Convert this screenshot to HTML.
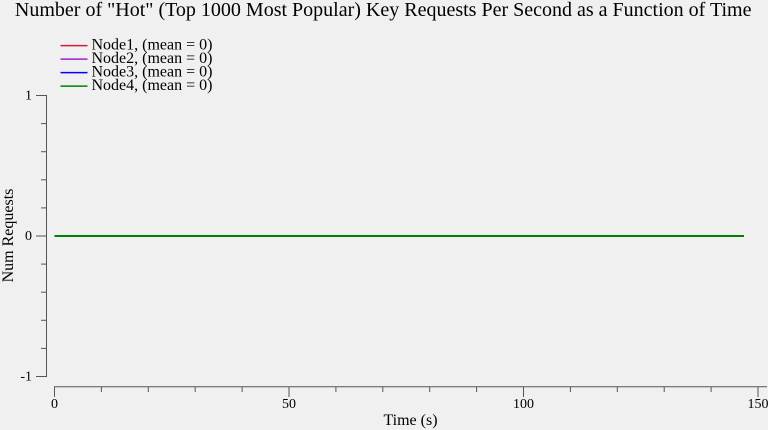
<!DOCTYPE html>
<html lang="en">
<head>
<meta charset="utf-8">
<title>Hot Key Requests Per Second</title>
<style>
html,body{margin:0;padding:0;background:#f0f0f0;}
svg{display:block;font-family:"Liberation Serif",serif;fill:#000;}
</style>
</head>
<body>
<svg id="chart" xmlns="http://www.w3.org/2000/svg" width="768" height="430" viewBox="0 0 768 430">
<rect x="0" y="0" width="768" height="430" fill="#f0f0f0"/>
<text x="383.2" y="16" font-size="20" text-anchor="middle">Number of "Hot" (Top 1000 Most Popular) Key Requests Per Second as a Function of Time</text>
<text x="0" y="0" font-size="16" text-anchor="middle" transform="translate(13 235.5) rotate(-90)">Num Requests</text>
<text x="410.5" y="425" font-size="16" text-anchor="middle">Time (s)</text>
<g id="axes"></g>
<g id="series"></g>
<g id="legend"></g>
</svg>
<script>
var seriesNames = ["Node1", "Node2", "Node3", "Node4"];
var seriesColors = ["#d01c3c", "#a020d0", "#0000ff", "#008000"];
var seriesMeans = [0, 0, 0, 0];
var times = [0, 10, 20, 30, 40, 50, 60, 70, 80, 90, 100, 110, 120, 130, 140, 147];
var node1Values = [0, 0, 0, 0, 0, 0, 0, 0, 0, 0, 0, 0, 0, 0, 0, 0];
var node2Values = [0, 0, 0, 0, 0, 0, 0, 0, 0, 0, 0, 0, 0, 0, 0, 0];
var node3Values = [0, 0, 0, 0, 0, 0, 0, 0, 0, 0, 0, 0, 0, 0, 0, 0];
var node4Values = [0, 0, 0, 0, 0, 0, 0, 0, 0, 0, 0, 0, 0, 0, 0, 0];
var xTicks = [0, 10, 20, 30, 40, 50, 60, 70, 80, 90, 100, 110, 120, 130, 140, 150];
var xLabels = [0, 50, 100, 150];
var yTicks = [-1, -0.8, -0.6, -0.4, -0.2, 0, 0.2, 0.4, 0.6, 0.8, 1];
var yLabels = [-1, 0, 1];

var NS = "http://www.w3.org/2000/svg";
function xScale(v) { return 54.5 + v * (758 - 54.5) / 150; }
function yScale(v) { return 236 - v * 140.5; }
function make(tag, attrs, parent) {
  var el = document.createElementNS(NS, tag);
  for (var k in attrs) { el.setAttribute(k, attrs[k]); }
  parent.appendChild(el);
  return el;
}
var axes = document.getElementById("axes");
var AXIS = "#555555";

var yLine = make("line", { x1: 46.5, x2: 46.5, y1: yScale(1) - 0.5, y2: yScale(-1) + 0.5, stroke: AXIS, "stroke-width": 1 }, axes);


var xLine = make("line", { x1: 54, x2: 767, y1: 386.7, y2: 386.7, stroke: AXIS, "stroke-width": 1 }, axes);



yTicks.forEach(function (v) {
  var major = yLabels.indexOf(v) >= 0;
  var t = make("line", { x1: major ? 36 : 41, x2: 46.5, y1: yScale(v), y2: yScale(v), stroke: AXIS, "stroke-width": 1 }, axes);
  
  
});
yLabels.forEach(function (v) {
  var t = make("text", { x: 32, y: yScale(v) + 4, "font-size": 14, "text-anchor": "end" }, axes);
  t.textContent = v;
  
  
});
xTicks.forEach(function (v) {
  var major = xLabels.indexOf(v) >= 0;
  var px = xScale(v);
  var t = make("line", { x1: px, x2: px, y1: 386.5, y2: major ? 397 : 392, stroke: AXIS, "stroke-width": 1 }, axes);
  
  
});
xLabels.forEach(function (v) {
  var t = make("text", { x: xScale(v), y: 408, "font-size": 14, "text-anchor": "middle" }, axes);
  t.textContent = v;
  
  
});

var seriesValues = [node1Values, node2Values, node3Values, node4Values];
var seriesGroup = document.getElementById("series");
seriesValues.forEach(function (vals, i) {
  var pts = vals.map(function (v, j) { return xScale(times[j]) + "," + yScale(v); }).join(" ");
  var line = make("polyline", { points: pts, fill: "none", stroke: seriesColors[i], "stroke-width": 2 }, seriesGroup);
  
  
});

var legend = document.getElementById("legend");
seriesNames.forEach(function (name, i) {
  var y = 45.6 + i * 13.5;
  var swatch = make("line", { x1: 60.5, x2: 87.5, y1: y, y2: y, stroke: seriesColors[i], "stroke-width": 1.5 }, legend);
  
  
  var label = make("text", { x: 91.5, y: y + 4, "font-size": 16 }, legend);
  label.textContent = name + ", (mean = " + seriesMeans[i] + ")";
  
  
});
</script>
</body>
</html>
